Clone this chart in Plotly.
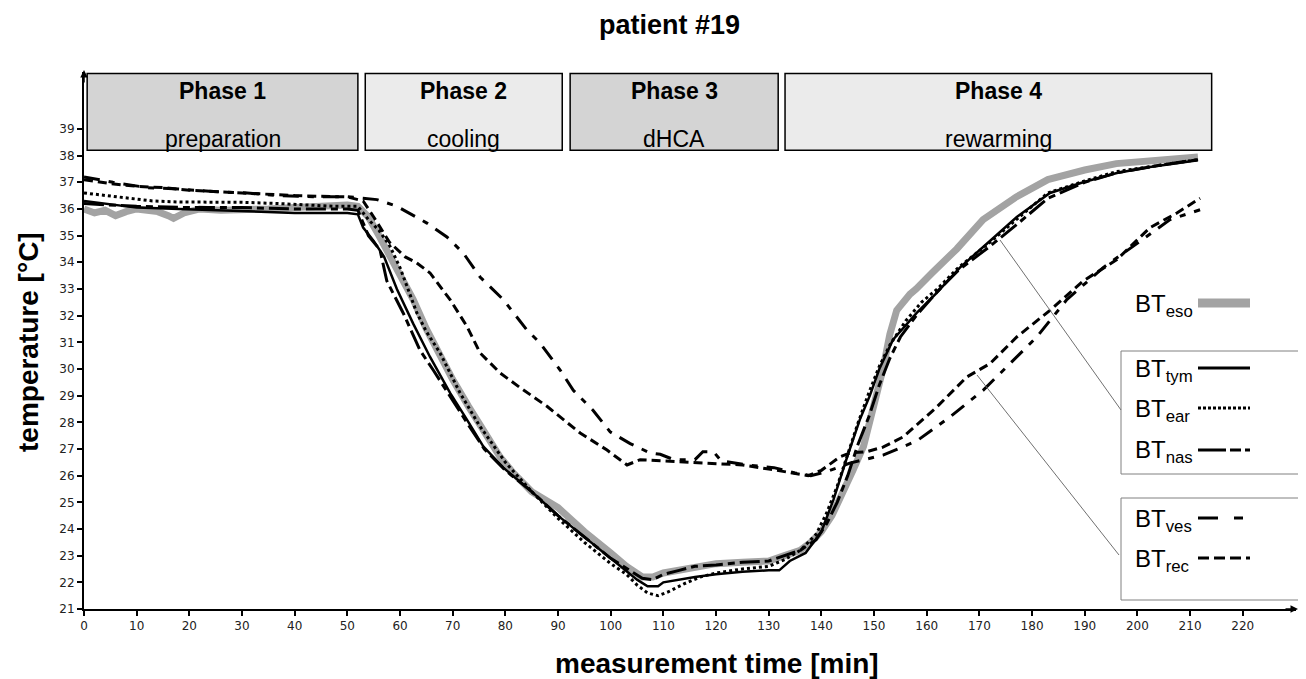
import plotly.graph_objects as go

# ---------------- data ----------------
eso_t = [0, 2, 4, 6, 8, 10, 12, 14, 16, 17, 19, 22, 26, 30, 35, 40, 45, 50, 52, 54,
         56, 58, 60, 62.5, 65, 67.6, 70, 73, 76, 79, 81.5, 85, 90, 95, 100, 103, 106, 108, 110, 115,
         120, 125, 130, 133, 136, 138, 140, 142, 144, 146, 148, 150, 151.7, 153, 154.3, 156.8, 158, 161, 165.7, 170.7,
         177, 183, 190, 196, 203, 211.5]
eso_v = [36.0, 35.85, 35.95, 35.75, 35.9, 36.0, 35.95, 35.9, 35.75, 35.65, 35.85, 36.0, 35.95, 36.0, 36.0, 36.05, 36.1, 36.15, 36.1, 35.7,
         35.0, 34.3, 33.6, 32.6, 31.5, 30.45, 29.6, 28.6, 27.6, 26.7, 26.1, 25.4, 24.8, 23.9, 23.1, 22.6, 22.2, 22.2, 22.35, 22.55,
         22.7, 22.75, 22.8, 23.0, 23.2, 23.5, 23.9, 24.5, 25.3, 26.2, 27.1, 28.6, 30.0, 31.3, 32.2, 32.8, 33.0, 33.6, 34.5, 35.6,
         36.45, 37.1, 37.46, 37.7, 37.8, 37.95]

tym_t = [0, 5.5, 10, 18, 25, 31, 40, 45, 50, 52, 53, 55, 57, 59.4, 62.5, 65.7, 69.5, 72.7, 75.8, 79.6,
         85, 90, 95, 100, 103, 105, 107, 109, 110, 113, 116, 120, 125, 130, 132, 134, 137, 140, 142.3, 144.9,
         147.3, 149.2, 151, 153.6, 158.1, 161.9, 166.3, 172, 177.1, 183.4, 189.7, 196.1, 202.4, 211.5]
tym_v = [36.3, 36.15, 36.05, 36.0, 35.95, 35.9, 35.85, 35.85, 35.85, 35.8, 35.3, 34.8, 34.2, 33.0, 31.7, 30.45, 29.1, 28.1, 27.1, 26.3,
         25.4, 24.5, 23.7, 22.9, 22.4, 22.1, 21.85, 21.85, 22.0, 22.1, 22.2, 22.3, 22.4, 22.45, 22.45, 22.8, 23.1, 23.9, 25.1, 26.7,
         28.1, 29.0, 30.0, 31.1, 32.1, 32.85, 33.8, 34.8, 35.7, 36.6, 37.0, 37.35, 37.57, 37.83]

ear_t = [0, 4, 8.7, 13, 18.2, 25, 30, 37.2, 42, 47.3, 52, 54, 56, 58.1, 60, 63.2, 65, 67.6, 71.4, 75,
         80, 85, 90, 95, 100, 103, 105, 107, 109, 111, 114, 117, 120, 125, 130, 133, 136, 139, 141, 143,
         145, 147, 149, 151, 153, 156, 159, 162, 166, 172, 177, 183, 190, 196, 203, 211.5]
ear_v = [36.6, 36.5, 36.4, 36.3, 36.26, 36.26, 36.25, 36.2, 36.15, 36.1, 36.1, 35.6, 35.2, 34.6, 33.8, 32.1, 31.4, 30.6, 29.1, 27.9,
         26.5, 25.4, 24.4, 23.5, 22.7, 22.3, 21.9, 21.6, 21.5, 21.65, 21.95, 22.2, 22.35, 22.5, 22.6, 22.85, 23.2, 23.8, 24.6, 25.6,
         26.8, 28.0, 29.1, 30.1, 30.9, 31.8, 32.5, 33.0, 33.8, 34.75, 35.6, 36.6, 37.05, 37.4, 37.6, 37.85]

nas_t = [0, 5, 10, 20, 30, 40, 50, 52, 54, 56.2, 57.5, 60.6, 63.8, 66.3, 69.5, 73, 76, 80, 85, 90,
         95, 100, 104, 106, 108, 110, 113, 116, 120, 125, 130, 133, 136, 139, 141, 143, 145, 147, 149, 151,
         153, 155, 158, 162, 166, 172, 177, 183, 190, 196, 203, 211.5]
nas_v = [36.2, 36.15, 36.1, 36.05, 36.05, 36.0, 36.0, 35.95, 35.0, 34.46, 33.3, 32.1, 30.7, 29.96, 29.0, 27.9, 27.0, 26.2, 25.4, 24.5,
         23.7, 22.9, 22.4, 22.15, 22.1, 22.3, 22.45, 22.6, 22.65, 22.75, 22.8, 23.0, 23.2, 23.6, 24.2, 25.0, 26.0, 27.2, 28.2, 29.4,
         30.4, 31.2, 32.0, 32.9, 33.7, 34.6, 35.4, 36.4, 37.0, 37.35, 37.6, 37.85]

ves_t = [0, 5.5, 12, 18, 24.5, 31, 37, 43.5, 50, 55.6, 59.4, 65.1, 68.9, 72, 75.2, 79.6, 84.1, 86.6, 90.4, 92.9,
         96.6, 99.9, 103.7, 107.5, 109.4, 112, 116, 117.5, 119.5, 121, 126, 131, 135, 138, 141, 143, 145.4, 151.7, 158.1, 164.4,
         170.7, 175.8, 180.9, 186.6, 193.5, 199.9, 206.2, 211.9]
ves_v = [37.2, 37.0, 36.8, 36.75, 36.65, 36.6, 36.5, 36.46, 36.46, 36.35, 36.1, 35.47, 34.95, 34.35, 33.45, 32.6, 31.46, 30.97, 29.96, 29.2,
         28.46, 27.64, 27.2, 26.85, 26.8, 26.6, 26.6, 26.9, 26.9, 26.55, 26.4, 26.3, 26.1, 26.0, 26.15, 26.3, 26.47, 26.77, 27.3, 28.2,
         29.2, 30.2, 31.2, 32.6, 33.8, 34.7, 35.6, 35.97]

rec_t = [0, 5, 10, 15, 20, 30, 40, 50, 53, 55, 58, 61, 63, 65.7, 69.5, 72.7, 75.2, 79, 82.8, 87.9,
         94.2, 99.3, 103.1, 105.6, 114.5, 120, 125, 130, 135, 137.5, 140, 143.5, 145.4, 148.6, 151.7, 155.5, 161.9, 167.6, 172, 177.1,
         183.4, 189.7, 196.1, 202.4, 207.5, 211.9]
rec_v = [37.1, 36.95, 36.85, 36.8, 36.7, 36.6, 36.5, 36.45, 36.3, 35.7, 34.75, 34.2, 34.0, 33.6, 32.6, 31.6, 30.6, 29.85, 29.3, 28.6,
         27.6, 26.96, 26.4, 26.6, 26.5, 26.45, 26.4, 26.25, 26.1, 26.0, 26.2, 26.7, 26.85, 26.9, 27.07, 27.45, 28.57, 29.7, 30.2, 31.2,
         32.2, 33.3, 34.1, 35.3, 35.85, 36.4]

phase_names = ["Phase 1", "Phase 2", "Phase 3", "Phase 4"]
phase_desc = ["preparation", "cooling", "dHCA", "rewarming"]
phase_start = [0.6, 53.4, 92.3, 133.1]
phase_end = [52.0, 90.8, 131.8, 214.1]

x_ticks = list(range(0, 221, 10))
y_ticks = list(range(21, 40))

title_text = "patient #19"
x_title = "measurement time [min]"
y_title = "temperature [°C]"

# ---------------- layout geometry ----------------
# the page body has an 8px margin, so the figure is drawn 8px smaller
OFF = 8
W, H = 1306 - OFF, 679 - OFF
ML, MR, MT, MB = 84 - OFF, 10, 72 - OFF, 70
PW, PH = W - ML - MR, H - MT - MB
XPX = 5.267   # px per minute
YPX = 26.67   # px per degree
x_range = [0, PW / XPX]
y_range = [21, 21 + PH / YPX]


def px(xp):   # page pixel -> paper x
    return (xp - OFF - ML) / PW


def py(yp):   # page pixel -> paper y
    return (H - MB - (yp - OFF)) / PH


ARIAL = "Liberation Sans, Arial, sans-serif"
fig = go.Figure()

series = [
    ("BTeso", eso_t, eso_v, dict(color="#a3a3a3", width=7)),
    ("BTtym", tym_t, tym_v, dict(color="black", width=2.5)),
    ("BTear", ear_t, ear_v, dict(color="black", width=3, dash="3px,3px")),
    ("BTnas", nas_t, nas_v, dict(color="black", width=3, dash="20px,5px,7px,5px")),
    ("BTves", ves_t, ves_v, dict(color="black", width=3, dash="16px,9px,6px,9px")),
    ("BTrec", rec_t, rec_v, dict(color="black", width=3, dash="9px,5px")),
]
for name, t, v, ln in series:
    fig.add_trace(go.Scatter(x=t, y=v, mode="lines", name=name, line=ln, showlegend=False))

shapes = []
annotations = []
fills = ["#d4d4d4", "#ebebeb", "#d4d4d4", "#ebebeb"]
for i in range(4):
    shapes.append(dict(type="rect", xref="x", yref="y", x0=phase_start[i], x1=phase_end[i],
                       y0=38.2, y1=41.08, fillcolor=fills[i], line=dict(color="black", width=1.5), layer="above"))
    xc = (phase_start[i] + phase_end[i]) / 2
    annotations.append(dict(x=xc, y=py(91), xref="x", yref="paper", xanchor="center", yanchor="middle",
                            text="<b>" + phase_names[i] + "</b>",
                            showarrow=False, font=dict(family=ARIAL, size=23, color="black")))
    annotations.append(dict(x=xc, y=py(139), xref="x", yref="paper", xanchor="center", yanchor="middle",
                            text=phase_desc[i],
                            showarrow=False, font=dict(family=ARIAL, size=23, color="black")))

# legend elements (pixel-positioned)
shapes.append(dict(type="rect", xref="paper", yref="paper", x0=px(1121), x1=px(1299), y0=py(474), y1=py(351),
                   line=dict(color="#808080", width=1), fillcolor="rgba(0,0,0,0)"))
shapes.append(dict(type="rect", xref="paper", yref="paper", x0=px(1121), x1=px(1299), y0=py(600), y1=py(498),
                   line=dict(color="#808080", width=1), fillcolor="rgba(0,0,0,0)"))
# leader lines
shapes.append(dict(type="line", xref="paper", yref="paper", x0=px(1000), y0=py(240), x1=px(1121), y1=py(410),
                   line=dict(color="#707070", width=1)))
shapes.append(dict(type="line", xref="paper", yref="paper", x0=px(977), y0=py(375), x1=px(1119), y1=py(555),
                   line=dict(color="#707070", width=1)))

leg = [
    ("eso", 303, dict(color="#a3a3a3", width=9)),
    ("tym", 368, dict(color="black", width=3)),
    ("ear", 408, dict(color="black", width=3, dash="3px,2px")),
    ("nas", 450, dict(color="black", width=3, dash="28px,4px,11px,4px")),
    ("ves", 518, dict(color="black", width=3, dash="20px,16px,9px,16px")),
    ("rec", 558, dict(color="black", width=3, dash="11px,5px")),
]
for sub, yl, ln in leg:
    annotations.append(dict(x=px(1133), y=py(yl + 2), xref="paper", yref="paper", xanchor="left", yanchor="middle",
                            text="BT<sub>" + sub + "</sub>", showarrow=False,
                            font=dict(family=ARIAL, size=24, color="black")))
    shapes.append(dict(type="line", xref="paper", yref="paper", x0=px(1198), x1=px(1250), y0=py(yl), y1=py(yl), line=ln))

# axis arrows
annotations.append(dict(x=px(1298), y=0, xref="paper", yref="paper", ax=-14, ay=0, text="", showarrow=True,
                        arrowhead=2, arrowsize=1, arrowwidth=1.5, arrowcolor="black"))
annotations.append(dict(x=0, y=py(70), xref="paper", yref="paper", ax=0, ay=14, text="", showarrow=True,
                        arrowhead=2, arrowsize=1, arrowwidth=1.5, arrowcolor="black"))

# titles
annotations.append(dict(x=px(669), y=py(25), xref="paper", yref="paper", xanchor="center", yanchor="middle",
                        text="<b>" + title_text + "</b>",
                        showarrow=False, font=dict(family=ARIAL, size=27, color="black")))
annotations.append(dict(x=px(717), y=py(663), xref="paper", yref="paper", xanchor="center", yanchor="middle",
                        text="<b>" + x_title + "</b>",
                        showarrow=False, font=dict(family=ARIAL, size=28, color="black")))
annotations.append(dict(x=px(28), y=py(342), xref="paper", yref="paper", xanchor="center", yanchor="middle",
                        text="<b>" + y_title + "</b>", textangle=-90,
                        showarrow=False, font=dict(family=ARIAL, size=28, color="black")))

fig.update_layout(
    width=W, height=H,
    margin=dict(l=ML, r=MR, t=MT, b=MB),
    plot_bgcolor="white", paper_bgcolor="white",
    shapes=shapes, annotations=annotations,
    xaxis=dict(range=x_range, tickvals=x_ticks, ticks="outside", ticklen=5, tickwidth=1.5, tickcolor="black",
               showline=True, linecolor="black", linewidth=2, showgrid=False, zeroline=False,
               tickfont=dict(family="DejaVu Sans", size=12, color="#222")),
    yaxis=dict(range=y_range, tickvals=y_ticks, ticks="outside", ticklen=5, tickwidth=1.5, tickcolor="black",
               showline=True, linecolor="black", linewidth=2, showgrid=False, zeroline=False,
               tickfont=dict(family="DejaVu Sans", size=12, color="#222")),
)

fig.write_html("out.html")
